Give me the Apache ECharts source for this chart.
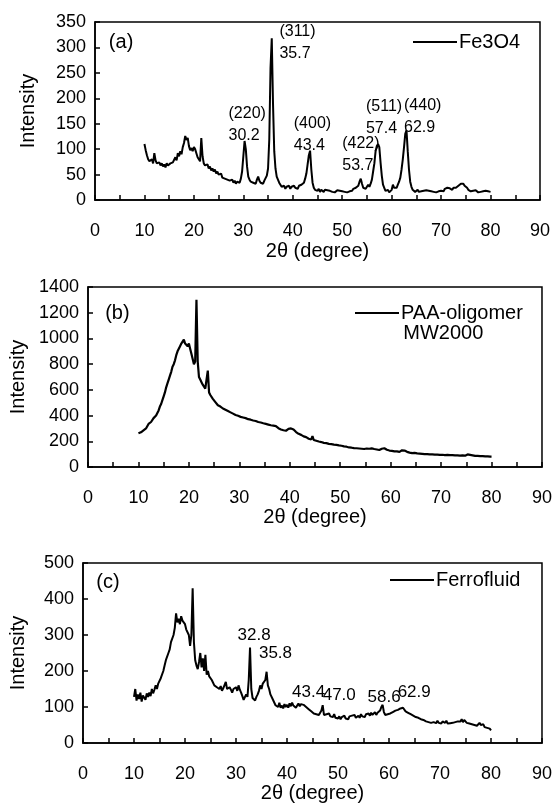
<!DOCTYPE html>
<html>
<head>
<meta charset="utf-8">
<script src="https://cdn.jsdelivr.net/npm/echarts@6/dist/echarts.min.js"></script>
<style>
html,body{margin:0;padding:0;background:#fff;}
#chart{width:555px;height:808px;}
</style>
</head>
<body>
<div id="chart"></div>
<script>
// scan: 10 to 80 deg, step 0.25 deg
const scanStart = 10, scanStep = 0.25;

const fe3o4 = [
110,98,88,80, 76,74,80,72, 92,78,72,70, 74,68,72,66, 70,64,72,68,
66,72,70,74, 72,84,78,92, 86,96,90,104, 112,126,118,122, 106,98,102,96,
104,100,92,84, 80,76,122,86, 72,68,66,70, 62,66,58,62, 56,60,52,56,
50,48,52,44, 46,42,44,40, 42,38,36,40, 34,38,32,36, 38,34,42,56,
86,116,100,66, 46,40,36,38, 34,36,32,40, 46,38,34,36, 32,38,40,48,
62,120,260,318, 190,96,62,46, 40,34,30,26, 24,28,22,26, 24,28,22,26,
24,28,24,26, 22,28,26,30, 28,34,42,52, 70,88,97,60, 34,24,20,18,
18,22,16,20, 18,16,20,17, 19,16,18,20, 16,18,15,17, 19,16,18,15,
17,19,16,18, 15,18,17,20, 18,22,20,24, 24,28,36,42, 32,24,26,22,
24,30,26,32, 40,56,72,96, 106,110,104,74, 48,30,24,18, 16,20,15,18,
20,30,24,26, 24,30,36,44, 60,80,104,130, 137,96,60,36, 26,20,18,16,
18,20,16,18, 17,15,18,16, 19,16,18,15, 17,19,16,18, 15,18,17,19,
18,20,17,22, 20,24,21,23, 22,20,24,22, 24,26,28,30, 32,34,32,28,
26,24,20,18, 17,15,18,16, 19,17,15,18, 16,18,17,15, 18,16,17,16,
16
];

const paa = [
262,250,270,278, 285,270,300,295, 335,345,350,360, 380,395,400,420, 440,470,490,520,
550,580,620,650, 680,710,740,780, 800,830,870,900, 920,940,960,950, 990,960,970,940,
960,920,880,840, 800,820,1300,820, 700,680,660,640, 630,610,600,750, 580,560,545,530,
520,505,495,480, 485,470,465,455, 460,445,450,435, 440,425,430,415, 420,405,410,398,
400,390,395,385, 388,380,385,372, 380,368,374,362, 370,358,362,350, 355,346,350,340,
345,335,340,330, 335,325,330,322, 328,318,310,302, 300,292,298,286, 294,282,290,296,
290,300,310,292, 280,272,265,258, 260,250,245,238, 240,232,228,220, 224,214,240,210,
212,204,208,198, 202,194,198,188, 192,186,190,180, 186,178,182,174, 178,172,176,168,
172,165,170,160, 164,158,162,152, 158,150,155,147, 152,146,150,144, 150,142,148,140,
148,144,150,142, 150,145,152,140, 142,136,140,132, 136,142,152,146, 140,134,138,128,
132,126,130,122, 128,122,126,118, 126,130,122,128, 124,118,122,112, 118,108,115,110,
112,106,110,104, 108,102,106,100, 106,100,104,98, 104,98,102,96, 102,96,100,94,
100,95,98,92, 98,94,97,92, 96,92,95,90, 95,90,94,88, 94,90,93,88,
95,98,100,94, 96,90,92,86, 90,86,88,84, 88,84,86,82, 86,82,84,80,
80
];

const ferro = [
128,150,118,135, 122,140,115,132, 130,120,138,128, 140,130,150,138, 148,160,150,165,
170,180,175,200, 215,230,225,250, 260,280,275,300, 320,360,335,345, 330,352,340,335,
330,315,320,300, 270,300,430,280, 230,215,205,225, 250,210,235,200, 245,190,200,185,
190,175,170,160, 165,155,160,150, 158,145,152,148, 170,150,145,155, 148,140,150,145,
155,145,160,148, 140,130,120,125, 135,128,175,265, 150,125,120,118, 128,135,145,160,
150,165,160,175, 198,160,150,135, 130,120,115,105, 108,100,112,98, 104,96,108,100,
106,98,110,102, 112,104,108,98, 104,110,102,108, 112,106,110,100, 102,94,96,88,
90,82,86,80, 84,78,82,90, 105,78,74,80, 76,82,74,78, 72,80,70,74,
68,74,66,72, 70,76,68,72, 66,74,70,76, 72,78,70,74, 76,70,80,74,
78,72,80,76, 82,76,84,78, 80,86,78,84, 82,90,100,106, 86,78,74,80,
76,82,78,86, 84,90,86,92, 90,96,92,98, 94,88,92,84, 86,80,84,76,
78,72,76,70, 72,66,70,64, 66,60,64,58, 62,56,60,58, 60,55,62,56,
58,54,60,56, 56,62,54,58, 55,50,56,52, 58,54,60,56, 60,66,58,64,
62,56,60,54, 58,52,56,50, 55,48,52,56, 50,46,52,44, 48,42,46,40,
35
];

// annotation labels: [x of left edge, y of centre, text]
const notesA = [
  [26.9, 149, '(220)\n30.2'],
  [37.2, 309, '(311)\n35.7'],
  [40.1, 128, '(400)\n43.4'],
  [49.9, 90, '(422)\n53.7'],
  [54.7, 162, '(511)\n57.4'],
  [62.4, 164, '(440)\n62.9']
];
const notesC = [
  [30.2, 299, '32.8'],
  [34.4, 248, '35.8'],
  [40.9, 141, '43.4'],
  [46.9, 132, '47.0'],
  [55.7, 127, '58.6'],
  [61.6, 141, '62.9']
];
const panelA = [[2.7, 309, '(a)']];
const panelB = [[3.3, 1194, '(b)'], [62.4, 1040, 'MW2000']];
const panelC = [[2.5, 447, '(c)']];

const xTicks = {min: 0, max: 90, interval: 10};
const yA = {min: 0, max: 350, interval: 50};
const yB = {min: 0, max: 1400, interval: 200};
const yC = {min: 0, max: 500, interval: 100};

const FONT = '"Liberation Sans", Arial, sans-serif';
const INK = '#000';

function pairs(vals){ return vals.map((v,i)=>[scanStart + i*scanStep, v]); }

const grids = [
  {left: 95, right: 15, top: 22, height: 178},
  {left: 88, right: 11, top: 287, height: 180},
  {left: 83, right: 12, top: 563, height: 180}
];
const nameGaps = [{x: 41, y: 57}, {x: 39, y: 58}, {x: 40, y: 55}];

const option = {
  backgroundColor: '#fff',
  animation: false,
  textStyle: {fontFamily: FONT, color: INK},
  grid: grids.map(g => Object.assign({show: true, borderColor: INK, borderWidth: 1.5, containLabel: false}, g)),
  xAxis: grids.map((g,i) => ({
    type: 'value', gridIndex: i, min: xTicks.min, max: xTicks.max, interval: xTicks.interval,
    name: '2θ (degree)', nameLocation: 'middle', nameGap: nameGaps[i].x,
    nameTextStyle: {fontSize: 20, color: INK, fontFamily: FONT},
    axisLine: {show: true, lineStyle: {color: INK, width: 1.5}},
    axisTick: {show: true, inside: true, length: 5, lineStyle: {color: INK, width: 1.5}},
    minorTick: {show: true, splitNumber: 2, length: 5, lineStyle: {color: INK, width: 1.5}},
    axisLabel: {fontSize: 18, color: INK, margin: 22, fontFamily: FONT, formatter: v => String(v)},
    splitLine: {show: false}
  })),
  yAxis: [yA, yB, yC].map((y,i) => ({
    type: 'value', gridIndex: i, min: y.min, max: y.max, interval: y.interval,
    name: 'Intensity', nameLocation: 'middle', nameGap: nameGaps[i].y, nameRotate: 90,
    nameTextStyle: {fontSize: 20, color: INK, fontFamily: FONT},
    axisLine: {show: true, lineStyle: {color: INK, width: 1.5}},
    axisTick: {show: true, inside: true, length: 5, lineStyle: {color: INK, width: 1.5}},
    axisLabel: {fontSize: 18, color: INK, margin: 9, fontFamily: FONT, formatter: v => String(v)},
    splitLine: {show: false}
  })),
  legend: [
    {data: ['Fe3O4'], left: 413, top: 32, padding: 0, icon: 'rect', itemWidth: 44, itemHeight: 2, itemGap: 0,
     textStyle: {fontSize: 20, color: INK, fontFamily: FONT, padding: [0,0,0,-3]}},
    {data: ['PAA-oligomer'], left: 355, top: 303, padding: 0, icon: 'rect', itemWidth: 44, itemHeight: 2,
     textStyle: {fontSize: 20, color: INK, fontFamily: FONT, padding: [0,0,0,-3]}},
    {data: ['Ferrofluid'], left: 390, top: 570, padding: 0, icon: 'rect', itemWidth: 44, itemHeight: 2,
     textStyle: {fontSize: 20, color: INK, fontFamily: FONT, padding: [0,0,0,-3]}}
  ],
  series: []
};

[['Fe3O4', fe3o4, 2], ['PAA-oligomer', paa, 2.2], ['Ferrofluid', ferro, 2]].forEach(([name, vals, w], i) => {
  option.series.push({
    name, type: 'line', xAxisIndex: i, yAxisIndex: i, data: pairs(vals),
    symbol: 'none', showSymbol: false, lineStyle: {color: INK, width: w}, itemStyle: {color: INK}, z: 3
  });
});

function labelSeries(list, i, size, lh){
  return {
    type: 'scatter', xAxisIndex: i, yAxisIndex: i, symbolSize: 1, silent: true,
    itemStyle: {color: 'rgba(0,0,0,0)', opacity: 1},
    data: list.map(d => ({value: [d[0], d[1]], label: {formatter: d[2]}})),
    label: {show: true, position: 'right', distance: 0, fontSize: size, lineHeight: lh,
            color: INK, opacity: 1, fontFamily: FONT, align: 'left'},
    emphasis: {disabled: true},
    z: 5
  };
}
option.series.push(labelSeries(notesA, 0, 16, 22));
option.series.push(labelSeries(notesC, 2, 17, 20));
option.series.push(labelSeries(panelA, 0, 20, 22));
option.series.push(labelSeries(panelB, 1, 20, 22));
option.series.push(labelSeries(panelC, 2, 20, 22));

const chart = echarts.init(document.getElementById('chart'), null, {renderer: 'canvas'});
chart.setOption(option);
</script>
</body>
</html>
